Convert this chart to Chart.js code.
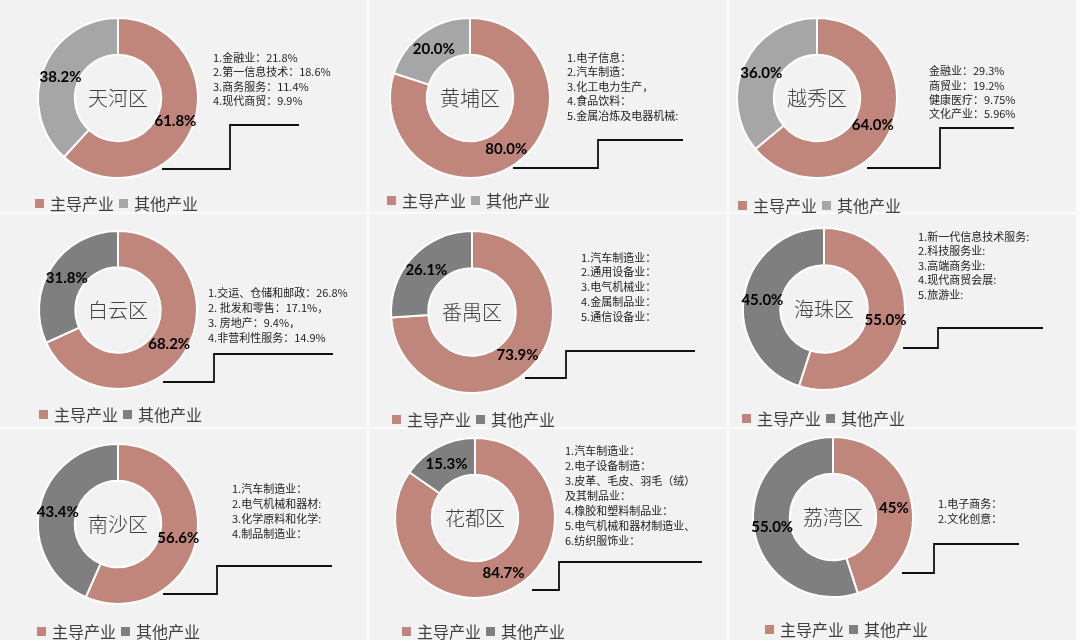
<!DOCTYPE html>
<html><head><meta charset="utf-8">
<script src="https://cdn.jsdelivr.net/npm/chart.js@4.4.1/dist/chart.umd.min.js"></script>
<style>
html,body{margin:0;padding:0;}
body{width:1080px;height:640px;background:#fbfbfb;position:relative;overflow:hidden;font-family:"Noto Sans CJK SC","Noto Sans",sans-serif;}
.panel{position:absolute;background:#f2f2f2;}
.panel canvas{position:absolute;left:0;top:0;}
.note{position:absolute;font-size:11px;color:#222222;white-space:nowrap;z-index:2;}
.legend{position:absolute;font-size:16px;color:#404040;white-space:nowrap;display:flex;align-items:center;height:20px;line-height:20px;z-index:2;}
.sw{display:inline-block;width:9px;height:9px;margin-right:6px;}
.gap{display:inline-block;width:5px;}
</style></head><body>
<script>
// ---------- data ----------
const districts = ['天河区','黄埔区','越秀区','白云区','番禺区','海珠区','南沙区','花都区','荔湾区'];
const seriesNames = ['主导产业','其他产业'];
const leadingShare = [61.8, 80.0, 64.0, 68.2, 73.9, 55.0, 56.6, 84.7, 45.0];
const otherShare   = [38.2, 20.0, 36.0, 31.8, 26.1, 45.0, 43.4, 15.3, 55.0];
const leadingLabels = ['61.8%','80.0%','64.0%','68.2%','73.9%','55.0%','56.6%','84.7%','45%'];
const otherLabels   = ['38.2%','20.0%','36.0%','31.8%','26.1%','45.0%','43.4%','15.3%','55.0%'];
const industryNotes = [
  ['1.金融业：21.8%','2.第一信息技术：18.6%','3.商务服务：11.4%','4.现代商贸：9.9%'],
  ['1.电子信息：','2.汽车制造：','3.化工电力生产，','4.食品饮料：','5.金属冶炼及电器机械:'],
  ['金融业：29.3%','商贸业：19.2%','健康医疗：9.75%','文化产业：5.96%'],
  ['1.交运、仓储和邮政：26.8%','2. 批发和零售：17.1%，','3. 房地产：9.4%，','4.非营利性服务：14.9%'],
  ['1.汽车制造业：','2.通用设备业：','3.电气机械业：','4.金属制品业：','5.通信设备业：'],
  ['1.新一代信息技术服务:','2.科技服务业:','3.高端商务业:','4.现代商贸会展:','5.旅游业:'],
  ['1.汽车制造业：','2.电气机械和器材:','3.化学原料和化学:','4.制品制造业：'],
  ['1.汽车制造业：','2.电子设备制造：','3.皮革、毛皮、羽毛（绒）','及其制品业：','4.橡胶和塑料制品业：','5.电气机械和器材制造业、','6.纺织服饰业：'],
  ['1.电子商务：','2.文化创意：']
];

// ---------- layout / style (page coordinates) ----------
const cols = [[0,367],[369,358],[729,347]];
const rows = [[0,212],[214,213],[429,211]];
const mainColor = '#c0867b';
const otherColors = ['#a6a6a6','#a6a6a6','#a6a6a6','#7f7f7f','#7f7f7f','#7f7f7f','#7f7f7f','#7f7f7f','#7f7f7f'];
const donutCenter = [[118,98],[470,98],[817,98],[118,310],[472,312],[824,309],[118,524],[475,518],[833,517]];
const donutRadius = [80,80,80,79,81,81,80,80,80];
const notePos = [[213,57,14.5],[567,57,14.5],[929,70.5,14.3],[208,292,15],[581,257,14.8],[918,236,14.6],[232,488,15],[565,450,15],[938,503,15]];
const legendPos = [[35,203],[387,200],[738,205],[39,414],[392,419],[742,418],[37,631],[402,631],[765,629]];
const leaderLines = [
  [[162,169],[230,169],[230,125],[299,125]],
  [[513,168],[598,168],[598,140],[683,140]],
  [[867,168],[940,168],[940,128],[1014,128]],
  [[163,382],[214,382],[214,354],[333,354]],
  [[525,378],[566,378],[566,351],[695,351]],
  [[903,348],[938,348],[938,328],[1043,328]],
  [[163,594],[217,594],[217,566],[332,566]],
  [[532,590],[559,590],[559,562],[702,562]],
  [[902,573],[934,573],[934,544],[1019,544]]
];

const overlay = {
  id: 'overlay',
  afterDatasetsDraw(chart, args, opts) {
    const ctx = chart.ctx;
    const meta = chart.getDatasetMeta(0);
    ctx.save();
    // leader line
    ctx.strokeStyle = '#111111';
    ctx.lineWidth = 1.8;
    ctx.lineJoin = 'miter';
    ctx.beginPath();
    opts.leader.forEach((p, i) => { if (i === 0) ctx.moveTo(p[0], p[1]); else ctx.lineTo(p[0], p[1]); });
    ctx.stroke();
    // district name in the hole
    const arc0 = meta.data[0];
    ctx.textAlign = 'center';
    ctx.textBaseline = 'middle';
    ctx.fillStyle = '#404040';
    ctx.font = '300 20px "Noto Sans CJK SC", sans-serif';
    ctx.fillText(opts.name, arc0.x, arc0.y);
    // data labels at arc centroids
    ctx.font = 'bold 15px Lato, "Open Sans", sans-serif';
    ctx.fillStyle = '#000000';
    meta.data.forEach((arc, i) => {
      const p = arc.tooltipPosition(true);
      ctx.fillText(opts.labels[i], p.x, p.y + 1);
    });
    ctx.restore();
  }
};

districts.forEach((name, k) => {
  const col = cols[k % 3], row = rows[Math.floor(k / 3)];
  const px = col[0], py = row[0], W = col[1], H = row[1];
  const panel = document.createElement('div');
  panel.className = 'panel';
  panel.style.left = px + 'px'; panel.style.top = py + 'px';
  panel.style.width = W + 'px'; panel.style.height = H + 'px';
  panel.style.zIndex = String(10 - Math.floor(k / 3));
  document.body.appendChild(panel);

  const canvas = document.createElement('canvas');
  canvas.width = W; canvas.height = H;
  canvas.style.width = W + 'px'; canvas.style.height = H + 'px';
  panel.appendChild(canvas);

  const cx = donutCenter[k][0] - px, cy = donutCenter[k][1] - py, r = donutRadius[k];
  const S = 2 * r + 6;
  const pad = { left: cx - S / 2, top: cy - S / 2, right: W - (cx + S / 2), bottom: H - (cy + S / 2) };
  const leaderLocal = leaderLines[k].map(p => [p[0] - px, p[1] - py]);

  new Chart(canvas, {
    type: 'doughnut',
    data: {
      labels: seriesNames,
      datasets: [{
        data: [leadingShare[k], otherShare[k]],
        backgroundColor: [mainColor, otherColors[k]],
        borderColor: '#ffffff',
        borderWidth: 2
      }]
    },
    options: {
      responsive: false,
      animation: false,
      radius: r,
      cutout: '54%',
      layout: { padding: pad },
      plugins: {
        legend: { display: false },
        tooltip: { enabled: false },
        overlay: { name: name, labels: [leadingLabels[k], otherLabels[k]], leader: leaderLocal }
      }
    },
    plugins: [overlay]
  });

  // industry notes
  const np = notePos[k];
  const note = document.createElement('div');
  note.className = 'note';
  note.style.left = (np[0] - px) + 'px';
  note.style.top = (np[1] - py - np[2] / 2) + 'px';
  note.style.lineHeight = np[2] + 'px';
  note.innerHTML = industryNotes[k].map(t => '<div>' + t + '</div>').join('');
  panel.appendChild(note);

  // legend
  const lp = legendPos[k];
  const lg = document.createElement('div');
  lg.className = 'legend';
  lg.style.left = (lp[0] - px) + 'px';
  lg.style.top = (lp[1] - py - 10) + 'px';
  lg.innerHTML = '<span class="sw" style="background:' + mainColor + '"></span><span>' + seriesNames[0] + '</span><span class="gap"></span>' +
                 '<span class="sw" style="background:' + otherColors[k] + '"></span><span>' + seriesNames[1] + '</span>';
  panel.appendChild(lg);
});
</script>
</body></html>
